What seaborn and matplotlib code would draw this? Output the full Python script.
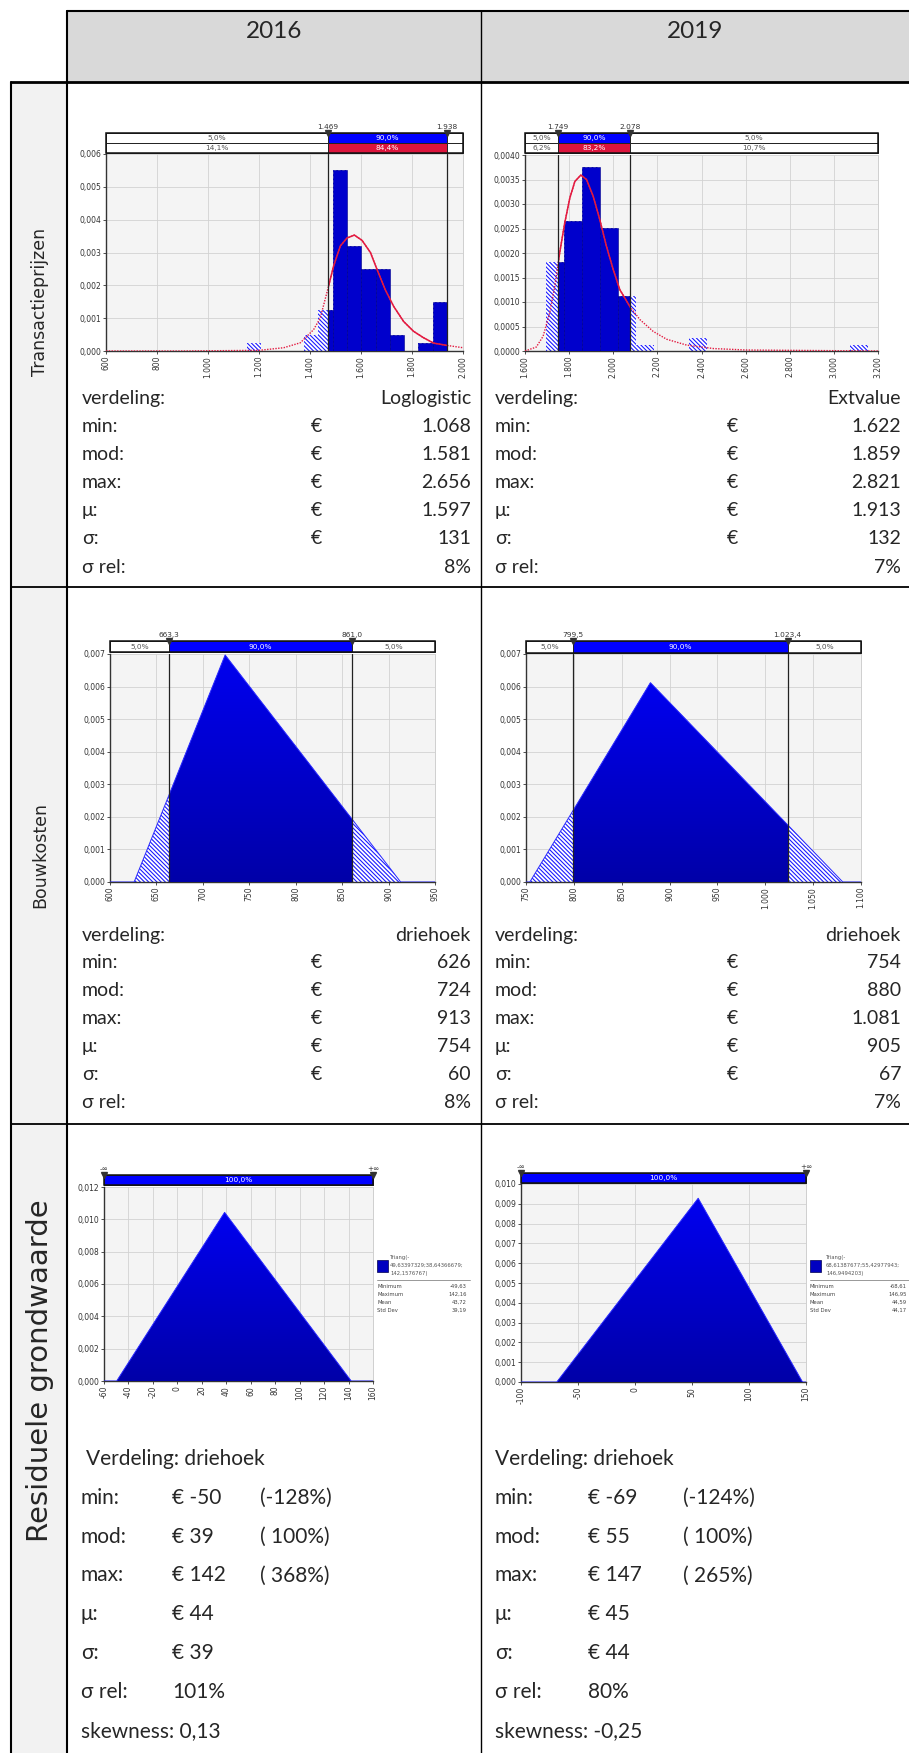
import numpy as np
import matplotlib
matplotlib.use("Agg")
import matplotlib.pyplot as plt
import matplotlib.patches as mpatches
from matplotlib.colors import LinearSegmentedColormap
from matplotlib.ticker import FuncFormatter
import seaborn as sns

W, H = 909, 1753

# ---------------- data ----------------
years = ["2016", "2019"]
row_titles = ["Transactieprijzen", "Bouwkosten", "Residuele grondwaarde"]

# transactieprijzen: histogram (bin edges, density) and fitted curve
tp16_edges = [1153, 1209, 1265, 1321, 1377, 1433, 1489, 1545, 1601, 1657, 1713, 1769, 1825, 1881, 1937]
tp16_dens = [0.00025, 0, 0, 0, 0.0005, 0.00125, 0.0055, 0.0032, 0.0025, 0.0025, 0.0005, 0, 0.00025, 0.0015]
tp16_fit_x = [600, 900, 1200, 1297, 1362, 1414, 1440, 1467, 1493, 1519, 1545, 1574, 1604,
              1637, 1663, 1695, 1728, 1767, 1806, 1846, 1885, 1937, 2000]
tp16_fit_y = [0, 0, 0.00002, 0.0001, 0.00025, 0.00065, 0.001, 0.0018, 0.0026, 0.0032, 0.00344,
              0.00353, 0.00337, 0.0030, 0.00248, 0.00187, 0.00136, 0.0009, 0.0006, 0.0004,
              0.00024, 0.00017, 0.0001]
tp16_cuts = [1469, 1938]
tp16_cut_labels = ["1.469", "1.938"]
tp16_band = [["5,0%", "90,0%", ""], ["14,1%", "84,4%", ""]]

tp19_edges = [1697, 1778, 1859, 1940, 2021, 2102, 2183, 2264, 2345, 2426, 2507, 2588, 2669,
              2750, 2831, 2912, 2993, 3074, 3155]
tp19_dens = [0.00182, 0.00266, 0.00376, 0.00252, 0.00113, 0.00013, 0, 0, 0.00027, 0, 0, 0,
             0, 0, 0, 0, 0, 0.00013]
tp19_fit_x = [1600, 1651, 1682, 1712, 1735, 1757, 1780, 1803, 1826, 1853, 1879, 1909, 1939,
              1969, 2000, 2030, 2075, 2121, 2181, 2242, 2333, 2454, 2605, 3200]
tp19_fit_y = [0, 0.00008, 0.0003, 0.00078, 0.00132, 0.002, 0.00261, 0.00312, 0.00346, 0.00359,
              0.0035, 0.00316, 0.00268, 0.00214, 0.00166, 0.00125, 0.00091, 0.00064, 0.0004,
              0.00024, 0.00012, 0.00005, 0.00002, 0]
tp19_cuts = [1749, 2078]
tp19_cut_labels = ["1.749", "2.078"]
tp19_band = [["5,0%", "90,0%", "5,0%"], ["6,2%", "83,2%", "10,7%"]]

# bouwkosten: triangular densities (min, mode, max)
bk16_x = [626, 724, 913]
bk16_y = [0, 0.00697, 0]
bk16_cuts = [663.3, 861.0]
bk16_cut_labels = ["663,3", "861,0"]
bk19_x = [754, 880, 1081]
bk19_y = [0, 0.00612, 0]
bk19_cuts = [799.5, 1023.4]
bk19_cut_labels = ["799,5", "1.023,4"]
bk_band = [["5,0%", "90,0%", "5,0%"]]

# residuele grondwaarde: triangular densities
rg16_x = [-49.63, 38.64, 142.16]
rg16_y = [0, 0.01043, 0]
rg19_x = [-68.61, 55.43, 146.95]
rg19_y = [0, 0.00928, 0]
rg_band = [["", "100,0%", ""]]
rg16_legend = ["Triang(-", "49,63397329;38,64366679;", "142,1576767)"]
rg19_legend = ["Triang(-", "68,61387677;55,42977943;", "146,9494203)"]
stat_names = ["Minimum", "Maximum", "Mean", "Std Dev"]
rg16_stats = ["-49,63", "142,16", "43,72", "39,19"]
rg19_stats = ["-68,61", "146,95", "44,59", "44,17"]

# table texts
stat_labels = ["verdeling:", "min:", "mod:", "max:", "μ:", "σ:", "σ rel:"]
tp16_vals = ["Loglogistic", "1.068", "1.581", "2.656", "1.597", "131", "8%"]
tp19_vals = ["Extvalue", "1.622", "1.859", "2.821", "1.913", "132", "7%"]
bk16_vals = ["driehoek", "626", "724", "913", "754", "60", "8%"]
bk19_vals = ["driehoek", "754", "880", "1.081", "905", "67", "7%"]
rg_labels = ["min:", "mod:", "max:", "μ:", "σ:", "σ rel:"]
rg16_vals = ["€ -50", "€ 39", "€ 142", "€ 44", "€ 39", "101%"]
rg19_vals = ["€ -69", "€ 55", "€ 147", "€ 45", "€ 44", "80%"]
rg16_pct = ["(-128%)", "( 100%)", "( 368%)"]
rg19_pct = ["(-124%)", "( 100%)", "( 265%)"]
rg16_skew = "0,13"
rg19_skew = "-0,25"

# ---------------- style ----------------
sns.set_theme(style="white")
plt.rcParams["font.family"] = ["DejaVu Sans"]
plt.rcParams["axes.unicode_minus"] = False
plt.rcParams["hatch.linewidth"] = 0.8
plt.rcParams["hatch.color"] = "#1a1aff"

TABLE_FONT = ["Lato", "DejaVu Sans"]
BAND_BLUE = "#0000ff"
BAND_RED = "#dc143c"
HATCH_BLUE = "#1a1aff"
BAR_BLUE = "#0000cc"
RED = "#e31a40"
HATCH = "\\" * 8
grad_cmap = LinearSegmentedColormap.from_list("grad", ["#0000a8", "#0000f0"])
GRAD = np.linspace(0, 1, 256).reshape(-1, 1)

fig = plt.figure(figsize=(W / 100, H / 100), dpi=100)
bg = fig.add_axes([0, 0, 1, 1])
bg.set_xlim(0, W)
bg.set_ylim(H, 0)
bg.axis("off")


def px_axes(x0, y0, x1, y1):
    return fig.add_axes([x0 / W, 1 - y1 / H, (x1 - x0) / W, (y1 - y0) / H])


def style_chart(ax, xlim, xstep, ylim, ystep, ydec):
    ax.set_facecolor("#f4f4f4")
    ax.set_xlim(*xlim)
    ax.set_ylim(*ylim)
    ax.set_xticks(np.arange(xlim[0], xlim[1] + xstep / 2, xstep))
    ax.set_yticks(np.arange(ylim[0], ylim[1] + ystep / 2, ystep))
    ax.xaxis.set_major_formatter(FuncFormatter(lambda v, p: f"{v:,.0f}".replace(",", ".")))
    ax.yaxis.set_major_formatter(FuncFormatter(lambda v, p: f"{v:.{ydec}f}".replace(".", ",")))
    ax.grid(True, color="#d2d2d2", lw=0.6)
    ax.set_axisbelow(True)
    ax.tick_params(axis="both", labelsize=5.5, length=2, width=0.6, colors="#333333",
                   pad=1.5, bottom=True, left=True)
    ax.tick_params(axis="x", labelrotation=90)
    ax.spines["top"].set_visible(False)
    ax.spines["right"].set_color("#c8c8c8")
    ax.spines["right"].set_linewidth(0.6)
    for s in ["left", "bottom"]:
        ax.spines[s].set_color("#333333")
        ax.spines[s].set_linewidth(1.0)
    ax.set_xlabel("")
    ax.set_ylabel("")


def draw_band(box, xlim, cuts, cut_labels, rows):
    bax = px_axes(*box)
    bax.set_xlim(*xlim)
    bax.set_ylim(len(rows), 0)
    bax.axis("off")
    edges = [xlim[0]] + list(cuts) + [xlim[1]]
    for r, texts in enumerate(rows):
        mid = BAND_BLUE if r == 0 else BAND_RED
        for k in range(3):
            a, b = edges[k], edges[k + 1]
            bax.add_patch(mpatches.Rectangle((a, r), b - a, 1, facecolor=mid if k == 1 else "white",
                                             edgecolor="#222222", lw=0.7, clip_on=False))
            if texts[k]:
                bax.text((a + b) / 2, r + 0.52, texts[k], ha="center", va="center", fontsize=5.3,
                         color="white" if k == 1 else "#555555")
    bax.add_patch(mpatches.Rectangle((xlim[0], 0), xlim[1] - xlim[0], len(rows), fill=False,
                                     edgecolor="#111111", lw=1.1, clip_on=False))
    for c, lab in zip(cuts, cut_labels):
        bax.plot([c], [0], marker="v", ms=4.2, color="#333333", clip_on=False, zorder=6)
        bax.annotate(lab, (c, 0), xytext=(0, 2.5), textcoords="offset points", ha="center",
                     va="bottom", fontsize=5.3, color="#333333", annotation_clip=False)


def draw_hist(ax, edges, dens, fit_x, fit_y, cuts, ymax):
    centers = [(a + b) / 2 for a, b in zip(edges[:-1], edges[1:])]
    sns.histplot(x=centers, weights=dens, bins=edges, stat="count", ax=ax, facecolor="white",
                 edgecolor=HATCH_BLUE, hatch=HATCH, linewidth=0, alpha=1, zorder=2)
    n0 = len(ax.patches)
    sns.histplot(x=centers, weights=dens, bins=edges, stat="count", ax=ax, facecolor=BAR_BLUE,
                 edgecolor="#00008a", linewidth=0.4, alpha=1, zorder=3)
    clip = mpatches.Rectangle((cuts[0], 0), cuts[1] - cuts[0], ymax, transform=ax.transData)
    for p in ax.patches[n0:]:
        p.set_clip_path(clip)
    sns.lineplot(x=fit_x, y=fit_y, ax=ax, color=RED, lw=1.0, linestyle=(0, (1, 1)), zorder=4)
    sns.lineplot(x=fit_x, y=fit_y, ax=ax, color=RED, lw=1.1, zorder=4)
    ax.lines[-1].set_clip_path(clip)
    for c in cuts:
        ax.axvline(c, color="#222222", lw=0.9, zorder=5)


def draw_triangle(ax, tx, ty, xlim, cuts):
    verts = list(zip(tx, ty))
    poly = mpatches.Polygon(verts, closed=True, facecolor="white", edgecolor=HATCH_BLUE,
                            hatch=HATCH, lw=0, zorder=2)
    ax.add_patch(poly)
    lo, hi = (cuts if cuts else (tx[0], tx[-1]))
    im = ax.imshow(GRAD, cmap=grad_cmap, extent=[lo, hi, 0, max(ty)], origin="lower",
                   aspect="auto", zorder=3, interpolation="bilinear")
    im.set_clip_path(poly)
    sns.lineplot(x=[xlim[0]] + list(tx) + [xlim[1]], y=[0] + list(ty) + [0], ax=ax,
                 color="#2a2aff", lw=0.7, zorder=3, sort=False)
    if cuts:
        for c in cuts:
            ax.axvline(c, color="#222222", lw=0.9, zorder=5)


# ---------------- table frame ----------------
bg.add_patch(mpatches.Rectangle((67, 11), W - 67, 71, facecolor="#d9d9d9", edgecolor="none"))
bg.add_patch(mpatches.Rectangle((11, 82), 56, H - 82, facecolor="#f2f2f2", edgecolor="none"))
bg.plot([67, W], [11, 11], color="black", lw=1.5)
bg.plot([11, W], [82, 82], color="black", lw=2.0)
bg.plot([11, W], [587, 587], color="black", lw=1.3)
bg.plot([11, W], [1124, 1124], color="black", lw=1.3)
bg.plot([67, 67], [11, H], color="black", lw=1.5)
bg.plot([11, 11], [82, H], color="black", lw=1.5)
bg.plot([481, 481], [11, H], color="black", lw=1.0)

for yr, cx in zip(years, [274, 695]):
    bg.text(cx, 31, yr, ha="center", va="center", fontsize=17.5, family=TABLE_FONT)

for title, cy, fs in zip(row_titles, [302, 855, 1371], [12.5, 12.5, 21]):
    bg.text(40, cy, title, rotation=90, ha="center", va="center", fontsize=fs,
            family=["DejaVu Sans"])

# stats blocks for rows 1 and 2
for vals16, vals19, y0, step in [(tp16_vals, tp19_vals, 398, 28.2), (bk16_vals, bk19_vals, 935, 27.9)]:
    for vals, lx, ex, rx in [(vals16, 82, 311, 471), (vals19, 495, 727, 901)]:
        for i, (lab, v) in enumerate(zip(stat_labels, vals)):
            y = y0 + i * step
            bg.text(lx, y, lab, ha="left", va="center", fontsize=14, family=TABLE_FONT)
            bg.text(rx, y, v, ha="right", va="center", fontsize=14, family=TABLE_FONT)
            if 1 <= i <= 5:
                bg.text(ex, y, "€", ha="left", va="center", fontsize=14, family=TABLE_FONT)

# residual land value block
for vals, pct, skew, lx, ex, px in [(rg16_vals, rg16_pct, rg16_skew, 81, 172, 260),
                                    (rg19_vals, rg19_pct, rg19_skew, 495, 588, 683)]:
    bg.text(lx + (5 if lx < 100 else 0), 1459, "Verdeling: driehoek", ha="left", va="center",
            fontsize=15, family=TABLE_FONT)
    for i, (lab, v) in enumerate(zip(rg_labels, vals)):
        y = 1459 + (i + 1) * 38.8
        bg.text(lx, y, lab, ha="left", va="center", fontsize=15, family=TABLE_FONT)
        bg.text(ex, y, v, ha="left", va="center", fontsize=15, family=TABLE_FONT)
        if i < len(pct):
            bg.text(px, y, pct[i], ha="left", va="center", fontsize=15, family=TABLE_FONT)
    bg.text(lx, 1459 + 7 * 38.8, "skewness: " + skew, ha="left", va="center", fontsize=15,
            family=TABLE_FONT)

# ---------------- charts ----------------
# transactieprijzen 2016
ax = px_axes(106, 154, 463, 351)
draw_hist(ax, tp16_edges, tp16_dens, tp16_fit_x, tp16_fit_y, tp16_cuts, 0.006)
style_chart(ax, (600, 2000), 200, (0, 0.006), 0.001, 3)
draw_band((106, 133, 463, 153), (600, 2000), tp16_cuts, tp16_cut_labels, tp16_band)

# transactieprijzen 2019
ax = px_axes(525, 155, 878, 351)
draw_hist(ax, tp19_edges, tp19_dens, tp19_fit_x, tp19_fit_y, tp19_cuts, 0.004)
style_chart(ax, (1600, 3200), 200, (0, 0.004), 0.0005, 4)
draw_band((525, 133, 878, 153), (1600, 3200), tp19_cuts, tp19_cut_labels, tp19_band)

# bouwkosten 2016
ax = px_axes(110, 654, 435, 882)
draw_triangle(ax, bk16_x, bk16_y, (600, 950), bk16_cuts)
style_chart(ax, (600, 950), 50, (0, 0.007), 0.001, 3)
draw_band((110, 641, 435, 652), (600, 950), bk16_cuts, bk16_cut_labels, bk_band)

# bouwkosten 2019
ax = px_axes(526, 654, 861, 882)
draw_triangle(ax, bk19_x, bk19_y, (750, 1100), bk19_cuts)
style_chart(ax, (750, 1100), 50, (0, 0.007), 0.001, 3)
draw_band((526, 641, 861, 653), (750, 1100), bk19_cuts, bk19_cut_labels, bk_band)

# residuele grondwaarde 2016
ax = px_axes(104, 1187, 373, 1381)
draw_triangle(ax, rg16_x, rg16_y, (-60, 160), None)
style_chart(ax, (-60, 160), 20, (0, 0.012), 0.002, 3)
draw_band((104, 1175, 373, 1185), (-60, 160), [-60, 160], ["-∞", "+∞"], rg_band)

# residuele grondwaarde 2019
ax = px_axes(521, 1184, 806, 1382)
draw_triangle(ax, rg19_x, rg19_y, (-100, 150), None)
style_chart(ax, (-100, 150), 50, (0, 0.010), 0.001, 3)
draw_band((521, 1173, 806, 1183), (-100, 150), [-100, 150], ["-∞", "+∞"], rg_band)

# small legends next to the residual charts
for sx, tx, rx, lines, stats in [(377, 390, 467, rg16_legend, rg16_stats),
                                 (810, 826, 907, rg19_legend, rg19_stats)]:
    bg.add_patch(mpatches.Rectangle((sx, 1260), 11, 12, facecolor="#0000c0", edgecolor="#000050", lw=0.5))
    for j, t in enumerate(lines):
        bg.text(tx, 1258 + j * 7.5, t, ha="left", va="center", fontsize=3.8, color="#555555")
    bg.plot([sx, min(rx + 3, W)], [1280, 1280], color="#888888", lw=0.6)
    for j, (nm, v) in enumerate(zip(stat_names, stats)):
        bg.text(sx, 1286 + j * 8, nm, ha="left", va="center", fontsize=3.8, color="#444444")
        bg.text(rx, 1286 + j * 8, v, ha="right", va="center", fontsize=3.8, color="#444444")

fig.savefig("out.png", dpi=100)
